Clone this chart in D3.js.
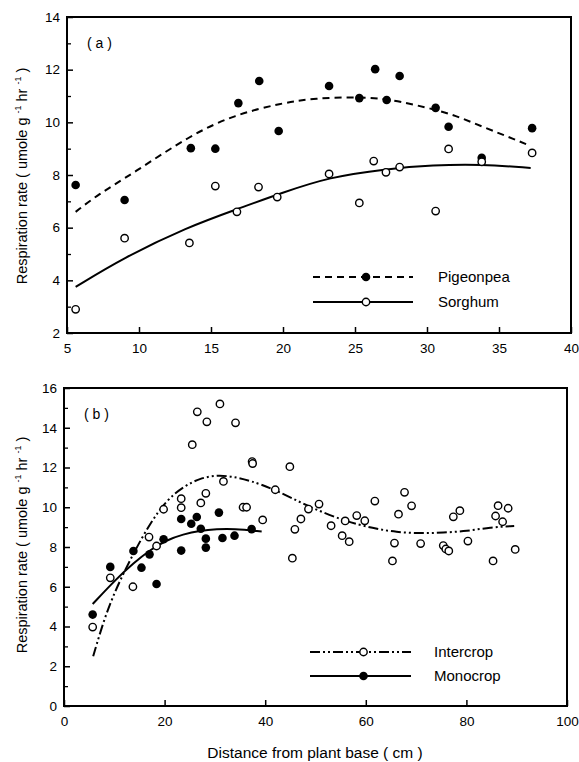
<!DOCTYPE html>
<html>
<head>
<meta charset="utf-8">
<script src="https://cdn.jsdelivr.net/npm/d3@7"></script>
<style>
  body { margin: 0; background: #fff; }
  svg { display: block; font-family: "Liberation Sans", Arial, sans-serif; }
</style>
</head>
<body>
<svg width="579" height="762"></svg>
<script>
// panel (a) observations
var pigeonX = [5.6, 9.0, 13.6, 15.3, 16.9, 18.35, 19.7, 23.2, 25.3, 26.4, 27.2, 28.1, 30.6, 31.5, 33.8, 37.3];
var pigeonY = [7.62, 7.05, 9.02, 9.0, 10.73, 11.57, 9.67, 11.38, 10.92, 12.02, 10.85, 11.76, 10.55, 9.83, 8.65, 9.78];
var sorghumX = [5.6, 9.0, 13.5, 15.3, 16.8, 18.3, 19.6, 23.2, 25.3, 26.3, 27.15, 28.1, 30.6, 31.5, 33.8, 37.3];
var sorghumY = [2.9, 5.6, 5.42, 7.58, 6.6, 7.54, 7.16, 8.04, 6.94, 8.53, 8.1, 8.3, 6.63, 8.99, 8.5, 8.84];
// panel (a) fitted curves
var pigeonFitX = [5.6, 7.1, 9.6, 13.6, 16.6, 19.9, 22.2, 25.3, 27.2, 29.2, 31.6, 33.9, 36.2, 37.2];
var pigeonFitY = [6.6, 7.24, 8.07, 9.52, 10.28, 10.73, 10.92, 10.96, 10.89, 10.66, 10.35, 9.82, 9.33, 9.1];
var sorghumFitX = [5.6, 8.9, 13.4, 16.8, 19.9, 23.2, 27.15, 30.4, 33.8, 37.2];
var sorghumFitY = [3.75, 4.85, 6.03, 6.7, 7.32, 7.92, 8.23, 8.38, 8.41, 8.27];

// panel (b) observations
var interX = [5.7, 9.2, 13.7, 16.9, 18.4, 19.8, 23.3, 23.3, 25.5, 26.5, 27.2, 28.2, 28.4, 31.0, 31.7, 34.1, 35.6, 36.3, 37.4, 37.5,
  39.5, 42.0, 44.9, 45.4, 45.9, 47.1, 48.6, 50.7, 53.1, 55.3, 55.9, 56.7, 58.2, 59.8, 61.8, 65.3, 65.7, 66.5, 67.7, 69.1,
  70.9, 75.4, 75.9, 76.5, 77.4, 78.7, 80.3, 85.3, 85.8, 86.3, 87.2, 88.3, 89.7];
var interY = [3.97, 6.45, 6.0, 8.5, 8.05, 9.9, 9.98, 10.43, 13.15, 14.8, 10.22, 10.7, 14.3, 15.2, 11.3, 14.25, 10.0, 10.0, 12.3, 12.2,
  9.36, 10.88, 12.04, 7.44, 8.89, 9.41, 9.91, 10.16, 9.07, 8.57, 9.31, 8.27, 9.58, 9.32, 10.31, 7.3, 8.2, 9.65, 10.75, 10.07,
  8.17, 8.07, 7.9, 7.8, 9.52, 9.83, 8.3, 7.3, 9.56, 10.08, 9.27, 9.95, 7.88];
var monoX = [5.7, 9.2, 13.8, 15.4, 17.0, 18.4, 19.8, 23.3, 23.3, 25.3, 26.4, 27.2, 28.2, 28.2, 30.8, 31.5, 33.9, 37.3];
var monoY = [4.6, 7.0, 7.8, 6.96, 7.63, 6.14, 8.39, 7.82, 9.41, 9.17, 9.51, 8.92, 8.42, 7.97, 9.73, 8.45, 8.57, 8.9];
// panel (b) fitted curves
var interFitX = [5.8, 8.0, 10.5, 13.8, 17.1, 20.4, 23.7, 27.0, 30.4, 33.7, 37.0, 41.9, 48.6, 55.9, 61.5, 66.1, 70.8, 75.4, 80.1, 84.7, 89.5];
var interFitY = [2.5, 4.4, 6.0, 7.68, 9.19, 10.36, 11.03, 11.46, 11.62, 11.54, 11.34, 10.9, 10.03, 9.29, 8.94, 8.74, 8.69, 8.72, 8.8, 8.99, 9.06];
var monoFitX = [5.7, 10.5, 13.8, 17.1, 20.4, 23.7, 27.0, 30.4, 33.7, 39.3];
var monoFitY = [5.13, 6.42, 7.18, 7.85, 8.35, 8.64, 8.82, 8.9, 8.92, 8.78];

var xTicksA = [5, 10, 15, 20, 25, 30, 35, 40];
var yTicksA = [2, 4, 6, 8, 10, 12, 14];
var xTicksB = [0, 20, 40, 60, 80, 100];
var yTicksB = [0, 2, 4, 6, 8, 10, 12, 14, 16];

var svg = d3.select("svg");

function zip(xs, ys) { return xs.map(function(x, i) { return [x, ys[i]]; }); }

function panel(cfg) {
  var x = d3.scaleLinear().domain(cfg.xDomain).range([cfg.left, cfg.right]);
  var y = d3.scaleLinear().domain(cfg.yDomain).range([cfg.bottom, cfg.top]);
  var g = svg.append("g");

  // minor y ticks
  var minor = d3.range(cfg.yDomain[0] + 1, cfg.yDomain[1], 2);
  g.append("g").attr("transform", "translate(" + cfg.left + ",0)")
    .call(d3.axisLeft(y).tickValues(minor).tickSize(-4).tickFormat(""))
    .call(function(a) { a.select(".domain").remove(); a.selectAll("line").attr("stroke-width", 1.3); });

  g.append("g").attr("transform", "translate(0," + cfg.bottom + ")")
    .call(d3.axisBottom(x).tickValues(cfg.xTicks).tickSize(-6).tickPadding(10).tickSizeOuter(0))
    .call(function(a) {
      a.select(".domain").remove();
      a.selectAll("line").attr("stroke-width", 1.5);
      a.selectAll("text").attr("font-size", 13.5).attr("fill", "#000");
    });
  g.append("g").attr("transform", "translate(" + cfg.left + ",0)")
    .call(d3.axisLeft(y).tickValues(cfg.yTicks).tickSize(-6).tickPadding(7).tickSizeOuter(0))
    .call(function(a) {
      a.select(".domain").remove();
      a.selectAll("line").attr("stroke-width", 1.5);
      a.selectAll("text").attr("font-size", 13.5).attr("fill", "#000");
    });

  g.append("rect")
    .attr("x", cfg.left).attr("y", cfg.top)
    .attr("width", cfg.right - cfg.left).attr("height", cfg.bottom - cfg.top)
    .attr("fill", "none").attr("stroke", "#000").attr("stroke-width", 2);

  var line = d3.line().x(function(d) { return x(d[0]); }).y(function(d) { return y(d[1]); })
    .curve(d3.curveBasis);

  cfg.series.forEach(function(s) {
    g.append("path").datum(zip(s.fitX, s.fitY))
      .attr("d", line).attr("fill", "none").attr("stroke", "#000")
      .attr("stroke-width", 2).attr("stroke-dasharray", s.dash);
  });
  cfg.series.forEach(function(s) {
    g.selectAll(null).data(zip(s.xs, s.ys)).enter().append("circle")
      .attr("cx", function(d) { return x(d[0]); })
      .attr("cy", function(d) { return y(d[1]); })
      .attr("r", s.filled ? 4.3 : 3.7)
      .attr("fill", s.filled ? "#000" : "#fff")
      .attr("stroke", "#000").attr("stroke-width", s.filled ? 0 : 1.4);
  });

  // legend
  cfg.series.forEach(function(s, i) {
    var ly = cfg.legY + i * cfg.legGap;
    g.append("line").attr("x1", cfg.legX1).attr("x2", cfg.legX2).attr("y1", ly).attr("y2", ly)
      .attr("stroke", "#000").attr("stroke-width", 2).attr("stroke-dasharray", s.dash);
    g.append("circle").attr("cx", (cfg.legX1 + cfg.legX2) / 2 + 3).attr("cy", ly)
      .attr("r", s.filled ? 4.3 : 3.7)
      .attr("fill", s.filled ? "#000" : "#fff")
      .attr("stroke", "#000").attr("stroke-width", s.filled ? 0 : 1.4);
    g.append("text").attr("x", cfg.legText).attr("y", ly + 5)
      .attr("font-size", 15).text(s.name);
  });

  g.append("text").attr("x", cfg.left + 20).attr("y", cfg.top + 31)
    .attr("font-size", 14).text(cfg.tag);

  var cy = cfg.titleY;
  var t = g.append("text")
    .attr("transform", "translate(27," + cy + ") rotate(-90)")
    .attr("text-anchor", "middle").attr("font-size", 14.5);
  t.append("tspan").text("Respiration rate ( umole g ");
  t.append("tspan").attr("font-size", 9).attr("dy", -6).text("-1");
  t.append("tspan").attr("dy", 6).text(" hr ");
  t.append("tspan").attr("font-size", 9).attr("dy", -6).text("-1");
  t.append("tspan").attr("dy", 6).text(" )");
}

panel({
  xDomain: [5, 40], yDomain: [2, 14], left: 67, right: 571, top: 17, bottom: 333,
  xTicks: xTicksA, yTicks: yTicksA, tag: "( a )", titleY: 176,
  legX1: 313, legX2: 413, legY: 277, legGap: 25, legText: 438,
  series: [
    { name: "Pigeonpea", xs: pigeonX, ys: pigeonY, fitX: pigeonFitX, fitY: pigeonFitY, filled: true, dash: "7,5" },
    { name: "Sorghum", xs: sorghumX, ys: sorghumY, fitX: sorghumFitX, fitY: sorghumFitY, filled: false, dash: null }
  ]
});

panel({
  xDomain: [0, 100], yDomain: [0, 16], left: 64, right: 567, top: 388, bottom: 706,
  xTicks: xTicksB, yTicks: yTicksB, tag: "( b )", titleY: 545,
  legX1: 310, legX2: 411, legY: 652, legGap: 24, legText: 434,
  series: [
    { name: "Intercrop", xs: interX, ys: interY, fitX: interFitX, fitY: interFitY, filled: false, dash: "10,3,2,3,2,3" },
    { name: "Monocrop", xs: monoX, ys: monoY, fitX: monoFitX, fitY: monoFitY, filled: true, dash: null }
  ]
});

svg.append("text").attr("x", 315).attr("y", 758)
  .attr("text-anchor", "middle").attr("font-size", 15.5)
  .text("Distance from plant base ( cm )");
</script>
</body>
</html>
